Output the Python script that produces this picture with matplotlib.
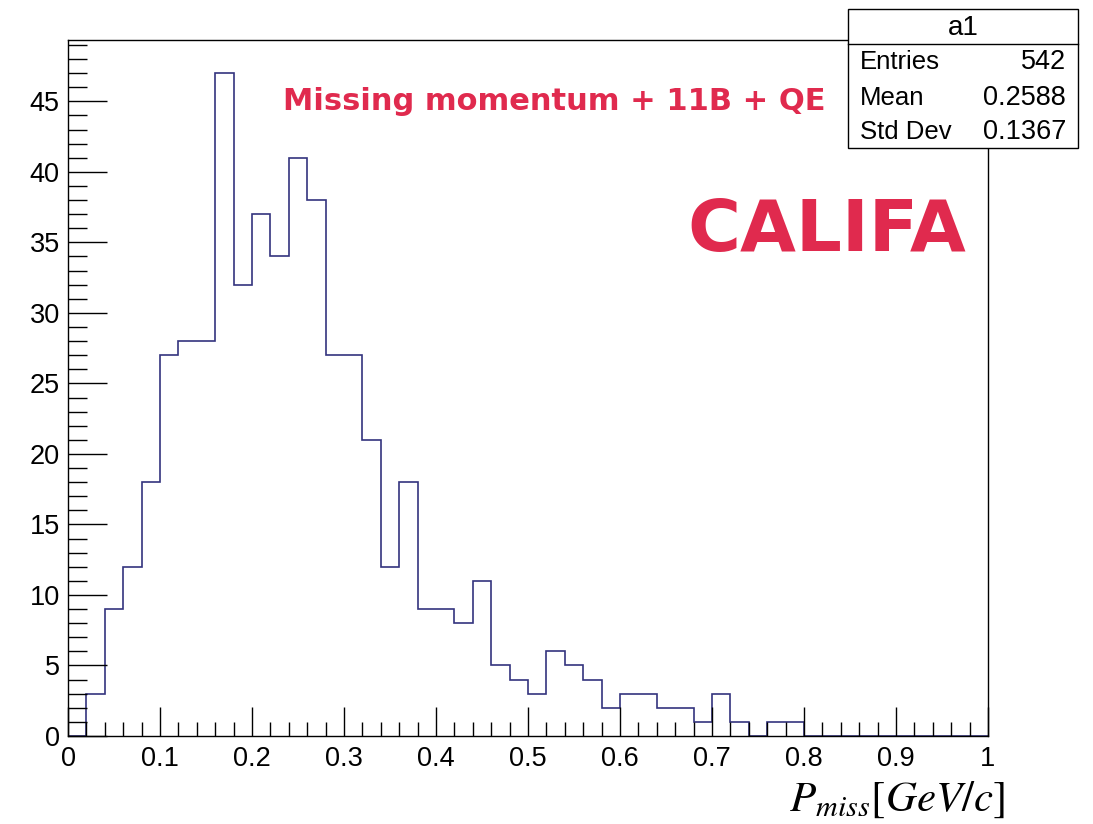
import matplotlib
matplotlib.use("Agg")
import matplotlib.pyplot as plt
from matplotlib.patches import Rectangle
from matplotlib.lines import Line2D
import numpy as np

# histogram "a1": 50 bins of 0.02 GeV/c from 0 to 1
binEdges = np.linspace(0.0, 1.0, 51)
counts = [0, 3, 9, 12, 18, 27, 28, 28, 47, 32,
          37, 34, 41, 38, 27, 27, 21, 12, 18, 9,
          9, 8, 11, 5, 4, 3, 6, 5, 4, 2,
          3, 3, 2, 2, 1, 3, 1, 0, 1, 1,
          0, 0, 0, 0, 0, 0, 0, 0, 0, 0]

statNames = ["Entries", "Mean", "Std Dev"]
statValues = ["542", "0.2588", "0.1367"]
histName = "a1"
xTicks = [0, 0.1, 0.2, 0.3, 0.4, 0.5, 0.6, 0.7, 0.8, 0.9, 1]
xTickLabels = ["0", "0.1", "0.2", "0.3", "0.4", "0.5", "0.6", "0.7", "0.8", "0.9", "1"]
yTicks = [0, 5, 10, 15, 20, 25, 30, 35, 40, 45]

plt.rcParams["font.family"] = ["Liberation Sans", "DejaVu Sans"]
plt.rcParams["mathtext.fontset"] = "stix"

W, H = 1093, 824
fig = plt.figure(figsize=(W / 100, H / 100), dpi=100)
ax = fig.add_axes([68 / W, 1 - 736 / H, (988 - 68) / W, (736 - 40) / H])

ax.stairs(counts, binEdges, baseline=0, color="#34347e", linewidth=1.2)

ax.set_xlim(0, 1)
ax.set_ylim(0, 1.05 * max(counts))
ax.set_xticks(xTicks)
ax.set_xticklabels(xTickLabels)
ax.set_xticks(np.arange(0, 1.001, 0.02), minor=True)
ax.set_yticks(yTicks)
ax.set_yticks(np.arange(0, 50, 1), minor=True)
ax.tick_params(axis="both", which="both", direction="in", top=False, right=False,
               labelsize=19.5, color="black", width=1.0)
ax.tick_params(axis="x", which="major", length=21, pad=7)
ax.tick_params(axis="x", which="minor", length=10)
ax.tick_params(axis="y", which="major", length=28, pad=6)
ax.tick_params(axis="y", which="minor", length=14)
for s in ax.spines.values():
    s.set_linewidth(1.0)

# x title, ROOT latex style
fig.text(1005 / W, 1 - 800 / H, r"$P_{miss}[GeV/c]$", ha="right", va="center",
         fontsize=31)

# stats box
bx0, bx1 = 848 / W, 1078 / W
by0, by1 = 1 - 148 / H, 1 - 9 / H
fig.patches.append(Rectangle((bx0, by0), bx1 - bx0, by1 - by0, transform=fig.transFigure,
                             facecolor="white", edgecolor="black", linewidth=1.0, zorder=5))
fig.lines.append(Line2D([bx0, bx1], [1 - 44 / H, 1 - 44 / H], transform=fig.transFigure,
                        color="black", linewidth=1.0, zorder=6))
fig.text((bx0 + bx1) / 2, 1 - 28 / H, histName, ha="center", va="center", fontsize=20, zorder=7)
rowY = [62, 98, 132]
for name, val, y in zip(statNames, statValues, rowY):
    fig.text(860 / W, 1 - y / H, name, ha="left", va="center", fontsize=18.5, zorder=7)
    fig.text(1066 / W, 1 - y / H, val, ha="right", va="center", fontsize=19.5, zorder=7)

# annotations
red = "#e02a4e"
fig.text(283 / W, 1 - 101 / H, "Missing momentum + 11B + QE", ha="left", va="center",
         fontsize=22, color=red, family="DejaVu Sans", fontweight="bold")
fig.text(687 / W, 1 - 232 / H, "CALIFA", ha="left", va="center",
         fontsize=52, color=red, family="DejaVu Sans", fontweight="bold")

fig.savefig("out.png", dpi=100, facecolor="white")
